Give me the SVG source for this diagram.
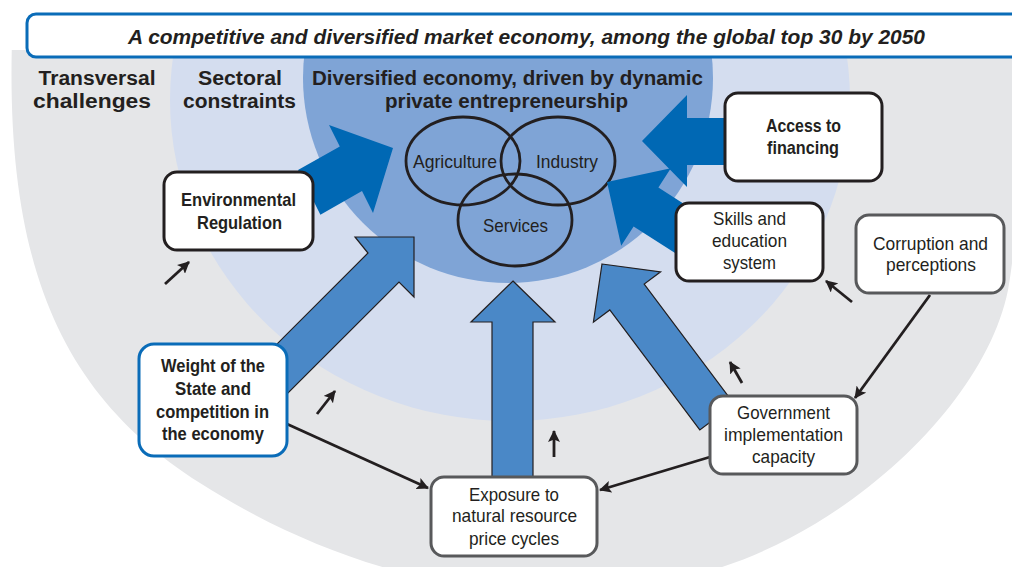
<svg xmlns="http://www.w3.org/2000/svg" width="1012" height="567" viewBox="0 0 1012 567">
  <defs>
    <clipPath id="below-banner"><rect x="0" y="50" width="1012" height="517"/></clipPath>
    <marker id="head" viewBox="0 0 12 12" refX="11" refY="6" markerWidth="12" markerHeight="12" markerUnits="userSpaceOnUse" orient="auto">
      <path d="M0,0 L12,6 L0,12 L2.5,6 Z" fill="#231f20"/>
    </marker>
    <style>
      .t{font-family:"Liberation Sans Narrow","Liberation Sans",Arial,sans-serif;fill:#231f20;text-anchor:middle}
      .h{font-size:20px;font-weight:bold}
      .nb{font-size:18.5px;font-weight:bold}
      .n{font-size:19px}
      .box{fill:#fff;stroke-width:3}
      .k{stroke:#231f20}
      .g{stroke:#58595b}
      .bl{stroke:#0a6cb8}
      .big{fill:#4a88c7;stroke:#231f20;stroke-width:1.2;stroke-linejoin:miter}
      .dark{fill:#0068b4}
      .line{stroke:#231f20;stroke-width:2.8;fill:none;marker-end:url(#head)}
      .venn{fill:none;stroke:#231f20;stroke-width:2.8}
    </style>
  </defs>

  <!-- concentric background zones -->
  <g id="zones" clip-path="url(#below-banner)">
    <path d="M12,20 L12,40 C5,280 70,400 200,483 C300,547 420,590 540,592 C640,594 720,575 790,538 C900,480 990,380 1008,290 C1015,250 1020,200 1020,20 Z" fill="#e5e6e8"/>
    <ellipse cx="510" cy="100" rx="340" ry="321" fill="#d4ddef"/>
    <circle cx="508" cy="78" r="205" fill="#7fa4d6"/>
  </g>

  <!-- title banner -->
  <g id="banner">
    <rect x="27" y="14" width="1000" height="43" rx="9" fill="#fff" stroke="#0a6cb8" stroke-width="3"/>
    <text class="t" x="526.5" y="43.5" font-size="21" font-weight="bold" font-style="italic" textLength="797" lengthAdjust="spacingAndGlyphs">A competitive and diversified market economy, among the global top 30 by 2050</text>
  </g>

  <!-- zone headings -->
  <g id="headings" class="t h">
    <text x="97" y="85" textLength="117" lengthAdjust="spacingAndGlyphs">Transversal</text>
    <text x="92" y="108" textLength="118" lengthAdjust="spacingAndGlyphs">challenges</text>
    <text x="240" y="85" textLength="84" lengthAdjust="spacingAndGlyphs">Sectoral</text>
    <text x="239.5" y="108" textLength="113" lengthAdjust="spacingAndGlyphs">constraints</text>
    <text x="507.5" y="85" textLength="391" lengthAdjust="spacingAndGlyphs">Diversified economy, driven by dynamic</text>
    <text x="506.5" y="108" textLength="243" lengthAdjust="spacingAndGlyphs">private entrepreneurship</text>
  </g>

  <!-- sector overlap -->
  <g id="sectors">
    <ellipse class="venn" cx="463" cy="161" rx="57" ry="44"/>
    <ellipse class="venn" cx="558" cy="161" rx="57" ry="44"/>
    <ellipse class="venn" cx="515" cy="220" rx="57" ry="46"/>
    <text class="t n" x="455" y="168" textLength="84" lengthAdjust="spacingAndGlyphs">Agriculture</text>
    <text class="t n" x="567" y="168" textLength="62" lengthAdjust="spacingAndGlyphs">Industry</text>
    <text class="t n" x="515.5" y="232" textLength="65" lengthAdjust="spacingAndGlyphs">Services</text>
  </g>

  <!-- connectors: block arrows, links and influence ticks -->
  <g id="connectors">
    <polygon class="dark" points="393,148 373,213 362,191 320.4,214.7 298,170 339.8,146.6 329,125"/>
    <polygon class="dark" points="642,141 687,95 687,118 732,118 732,165 687,165 687,187"/>
    <polygon class="dark" points="607,182 670.8,168.3 658.4,187.6 704.7,217.3 679.9,256.1 633.6,226.4 621.2,245.7"/>
    <polygon class="big" points="414,237 414,297 399,282 281,400 250,371 368,253 355,237"/>
    <polygon class="big" points="513,281 555,322 533,322 533,485 492,485 492,322 471,322"/>
    <polygon class="big" points="602,264 660.6,271.8 644.2,284.1 734.2,404.1 699.8,429.9 609.8,309.9 593.4,322.2"/>

    <line class="line" x1="930" y1="295" x2="855" y2="398"/>
    <line class="line" x1="287" y1="424" x2="428" y2="488"/>
    <line class="line" x1="710" y1="457" x2="600" y2="490"/>

    <line class="line" x1="165" y1="284" x2="189" y2="262"/>
    <line class="line" x1="317" y1="414" x2="335" y2="391"/>
    <line class="line" x1="554" y1="457" x2="554" y2="431"/>
    <line class="line" x1="742" y1="383" x2="730" y2="362"/>
    <line class="line" x1="852" y1="302" x2="826" y2="281"/>
  </g>

  <g id="environmental-regulation">
    <rect class="box k" x="164" y="172" width="149" height="78" rx="13"/>
    <text class="t nb" x="238.5" y="205.5" textLength="115" lengthAdjust="spacingAndGlyphs">Environmental</text>
    <text class="t nb" x="239.5" y="229" textLength="85" lengthAdjust="spacingAndGlyphs">Regulation</text>
  </g>

  <g id="access-to-financing">
    <rect class="box k" x="725" y="93" width="157" height="88" rx="13"/>
    <text class="t nb" x="803.5" y="132" textLength="75" lengthAdjust="spacingAndGlyphs">Access to</text>
    <text class="t nb" x="803" y="153.5" textLength="72" lengthAdjust="spacingAndGlyphs">financing</text>
  </g>

  <g id="skills-education">
    <rect class="box k" x="676" y="203" width="147" height="78" rx="13"/>
    <text class="t n" x="749.5" y="225" textLength="73" lengthAdjust="spacingAndGlyphs">Skills and</text>
    <text class="t n" x="749.5" y="247" textLength="75" lengthAdjust="spacingAndGlyphs">education</text>
    <text class="t n" x="749.5" y="269" textLength="53" lengthAdjust="spacingAndGlyphs">system</text>
  </g>

  <g id="corruption">
    <rect class="box g" x="856" y="215" width="148" height="78" rx="13"/>
    <text class="t n" x="930.5" y="249.5" textLength="115" lengthAdjust="spacingAndGlyphs">Corruption and</text>
    <text class="t n" x="931" y="271" textLength="90" lengthAdjust="spacingAndGlyphs">perceptions</text>
  </g>

  <g id="weight-of-state">
    <rect class="box bl" x="139" y="344" width="148" height="112" rx="15"/>
    <text class="t nb" x="213" y="372" textLength="104" lengthAdjust="spacingAndGlyphs">Weight of the</text>
    <text class="t nb" x="213" y="395" textLength="76" lengthAdjust="spacingAndGlyphs">State and</text>
    <text class="t nb" x="212.5" y="418" textLength="113" lengthAdjust="spacingAndGlyphs">competition in</text>
    <text class="t nb" x="213" y="440" textLength="102" lengthAdjust="spacingAndGlyphs">the economy</text>
  </g>

  <g id="government-capacity">
    <rect class="box g" x="710" y="396" width="147" height="78" rx="13"/>
    <text class="t n" x="783.5" y="419" textLength="93" lengthAdjust="spacingAndGlyphs">Government</text>
    <text class="t n" x="783.5" y="441" textLength="119" lengthAdjust="spacingAndGlyphs">implementation</text>
    <text class="t n" x="783.5" y="463" textLength="63" lengthAdjust="spacingAndGlyphs">capacity</text>
  </g>

  <g id="resource-price-cycles">
    <rect class="box g" x="431" y="477" width="166" height="79" rx="13"/>
    <text class="t n" x="514" y="501" textLength="90" lengthAdjust="spacingAndGlyphs">Exposure to</text>
    <text class="t n" x="514.5" y="522" textLength="125" lengthAdjust="spacingAndGlyphs">natural resource</text>
    <text class="t n" x="514" y="545" textLength="90" lengthAdjust="spacingAndGlyphs">price cycles</text>
  </g>
</svg>
